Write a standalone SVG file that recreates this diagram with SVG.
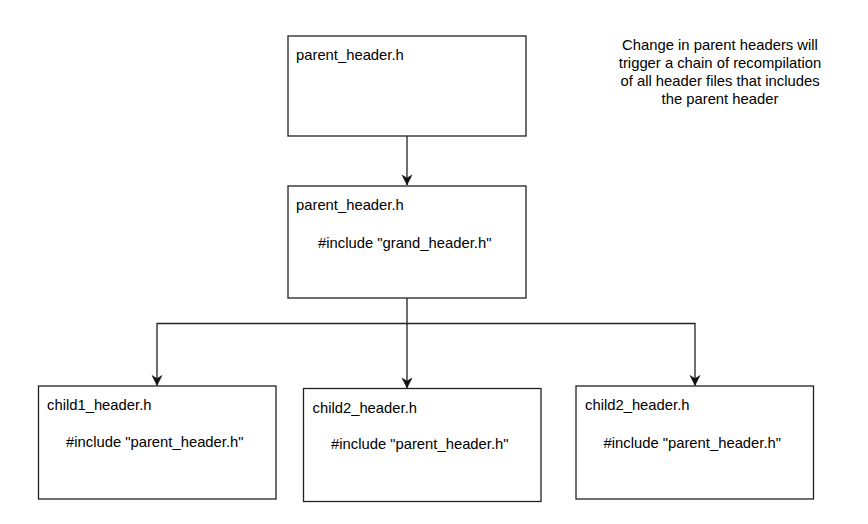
<svg xmlns="http://www.w3.org/2000/svg" width="868" height="524" viewBox="0 0 868 524">
<style>
.box{fill:#fff;stroke:#222;stroke-width:1.3}
.t{font-family:"Liberation Sans",Arial,sans-serif;font-size:14.8px;fill:#000}
.c{stroke:#222;stroke-width:1.3;fill:none}
</style>
<defs>
<marker id="ah" markerUnits="userSpaceOnUse" markerWidth="12" markerHeight="12" refX="10" refY="5" orient="auto" overflow="visible">
<path d="M10,5 L0,0 L3,5 L0,10 Z" fill="#111" stroke="#111" stroke-width="0.5"/>
</marker>
</defs>
<rect width="868" height="524" fill="#fff"/>
<g id="connectors">
<path class="c" d="M407,136 V185" marker-end="url(#ah)"/>
<path class="c" d="M407,298 V323.5 H157 V385.5" marker-end="url(#ah)"/>
<path class="c" d="M407,323.5 V388" marker-end="url(#ah)"/>
<path class="c" d="M407,323.5 H695 V385.5" marker-end="url(#ah)"/>
</g>
<g id="parent_top">
<rect class="box" x="288" y="36" width="238" height="100"/>
<text class="t" x="296" y="60">parent_header.h</text>
</g>
<g id="parent_mid">
<rect class="box" x="288" y="186" width="238" height="112"/>
<text class="t" x="296" y="210">parent_header.h</text>
<text class="t" x="318" y="248">#include "grand_header.h"</text>
</g>
<g id="child1">
<rect class="box" x="38.5" y="386" width="237.5" height="113"/>
<text class="t" x="47" y="410">child1_header.h</text>
<text class="t" x="66" y="447">#include "parent_header.h"</text>
</g>
<g id="child2">
<rect class="box" x="303.5" y="388.5" width="237.5" height="113"/>
<text class="t" x="312.5" y="413">child2_header.h</text>
<text class="t" x="331" y="449">#include "parent_header.h"</text>
</g>
<g id="child3">
<rect class="box" x="576" y="386" width="237.5" height="113"/>
<text class="t" x="585" y="410">child2_header.h</text>
<text class="t" x="603.5" y="448">#include "parent_header.h"</text>
</g>
<g id="note">
<text class="t" text-anchor="middle" x="720" y="50">Change in parent headers will</text>
<text class="t" text-anchor="middle" x="720" y="68">trigger a chain of recompilation</text>
<text class="t" text-anchor="middle" x="720" y="86">of all header files that includes</text>
<text class="t" text-anchor="middle" x="720" y="104">the parent header</text>
</g>
</svg>
